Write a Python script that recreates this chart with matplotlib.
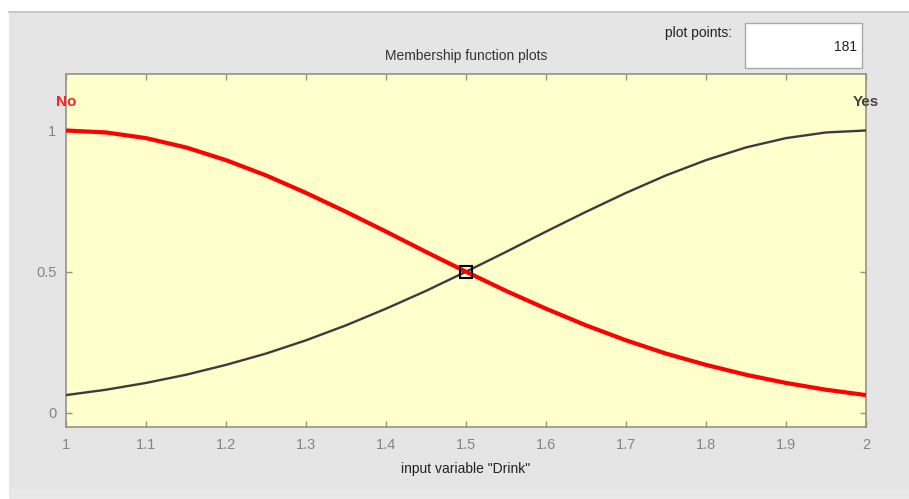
import numpy as np
import matplotlib
matplotlib.use("Agg")
import matplotlib.pyplot as plt
from matplotlib.patches import Rectangle
from matplotlib.lines import Line2D

plt.rcParams['font.family'] = ['Liberation Sans', 'DejaVu Sans']

# Membership values of the two fuzzy sets over the "Drink" input range
drink_x = [1.00, 1.05, 1.10, 1.15, 1.20, 1.25, 1.30, 1.35, 1.40, 1.45, 1.50,
           1.55, 1.60, 1.65, 1.70, 1.75, 1.80, 1.85, 1.90, 1.95, 2.00]
mf_no = [1.000, 0.993, 0.973, 0.940, 0.895, 0.841, 0.779, 0.712, 0.642, 0.570, 0.500,
         0.432, 0.369, 0.310, 0.257, 0.210, 0.170, 0.135, 0.106, 0.082, 0.063]
mf_yes = [0.063, 0.082, 0.106, 0.135, 0.170, 0.210, 0.257, 0.310, 0.369, 0.432, 0.500,
          0.570, 0.642, 0.712, 0.779, 0.841, 0.895, 0.940, 0.973, 0.993, 1.000]
mf_names = ["No", "Yes"]
x_ticks = [1.0, 1.1, 1.2, 1.3, 1.4, 1.5, 1.6, 1.7, 1.8, 1.9, 2.0]
x_tick_labels = ["1", "1.1", "1.2", "1.3", "1.4", "1.5", "1.6", "1.7", "1.8", "1.9", "2"]
y_ticks = [0, 0.5, 1]
y_tick_labels = ["0", "0.5", "1"]
cross_point = (1.5, 0.5)
plot_points = "181"

W, H = 909, 499
fig = plt.figure(figsize=(W / 100, H / 100), dpi=100)
fig.patch.set_facecolor("white")

def px_rect(x0, y0, x1, y1):
    return [x0 / W, 1 - y1 / H, (x1 - x0) / W, (y1 - y0) / H]

# window panel background
panel_bg = "#e5e5e5"
fig.patches.append(Rectangle((9 / W, 0), 1, 1 - 11 / H, transform=fig.transFigure,
                             facecolor=panel_bg, edgecolor="none", zorder=-10))
fig.lines.append(Line2D([9 / W, 1], [1 - 11.5 / H, 1 - 11.5 / H], transform=fig.transFigure,
                        color="#c8c8c8", lw=1.5, zorder=-9))
fig.patches.append(Rectangle((9 / W, 0), 1, 10 / H, transform=fig.transFigure,
                             facecolor="#e9e9e9", edgecolor="none", zorder=-9))

# "plot points" edit box
fig.text(732 / W, 1 - 33 / H, "plot points:", ha="right", va="center",
         fontsize=10, color="#222222")
fig.patches.append(Rectangle((745 / W, 1 - 68 / H), 117 / W, 45 / H, transform=fig.transFigure,
                             facecolor="white", edgecolor="#a9a9a9", lw=1, zorder=2))
fig.text(857 / W, 1 - 47 / H, plot_points, ha="right", va="center",
         fontsize=10, color="#222222", zorder=3)

ax = fig.add_axes(px_rect(66, 74, 866, 427))
ax.set_zorder(5)
ax.set_facecolor("#ffffcc")

ax.plot(drink_x, mf_yes, color="#3c3c3c", lw=1.7, solid_capstyle="butt", zorder=3)
ax.plot(drink_x, mf_no, color="#ff0000", lw=3, solid_capstyle="butt", zorder=4)
ax.plot([cross_point[0]], [cross_point[1]], marker="s", markersize=9,
        markerfacecolor="none", markeredgecolor="black", markeredgewidth=1.5, zorder=5)

ax.text(drink_x[0], 1.1, mf_names[0], ha="center", va="center", fontsize=11,
        fontweight="bold", color="#ff2020", clip_on=False)
ax.text(drink_x[-1], 1.1, mf_names[1], ha="center", va="center", fontsize=11,
        fontweight="bold", color="#444444", clip_on=False)

ax.set_xlim(1, 2)
ax.set_ylim(-0.05, 1.2)
ax.set_xticks(x_ticks)
ax.set_xticklabels(x_tick_labels)
ax.set_yticks(y_ticks)
ax.set_yticklabels(y_tick_labels)

frame_col = "#939387"
for s in ax.spines.values():
    s.set_color(frame_col)
    s.set_linewidth(1.2)
ax.tick_params(direction="in", length=4, width=1, color=frame_col,
               top=True, right=True, labelsize=10.5, labelcolor="#858585")
ax.tick_params(axis="x", pad=8)
ax.tick_params(axis="y", pad=7)

ax.set_title("Membership function plots", fontsize=10, color="#333333", pad=10)
ax.set_xlabel('input variable "Drink"', fontsize=10, color="#222222", labelpad=7)

fig.savefig("out.png", dpi=100, facecolor=fig.get_facecolor())
